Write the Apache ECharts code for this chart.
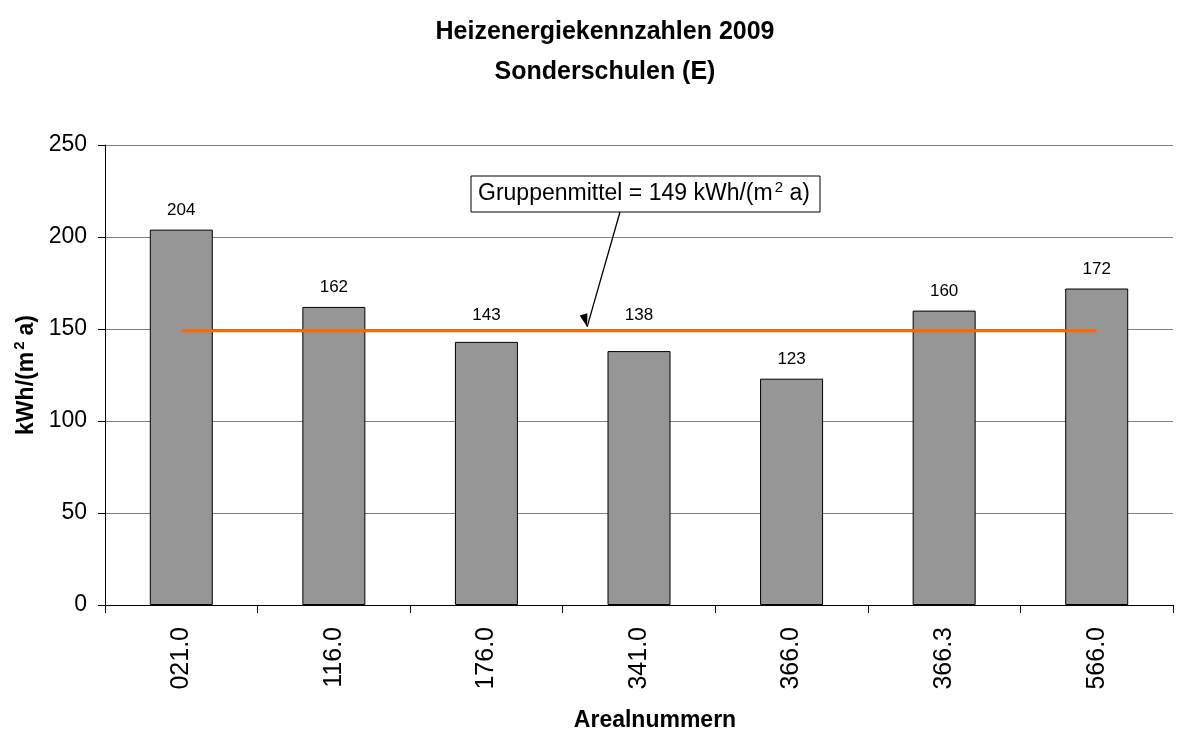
<!DOCTYPE html>
<html>
<head>
<meta charset="utf-8">
<script src="https://cdn.jsdelivr.net/npm/echarts@6/dist/echarts.min.js"></script>
<style>
  html, body { margin: 0; padding: 0; background: #fff; }
  #main { width: 1196px; height: 736px; }
</style>
</head>
<body>
<div id="main"></div>
<script>
var myChart = echarts.init(document.getElementById("main"));

// Daten
var areale = ["021.0", "116.0", "176.0", "341.0", "366.0", "366.3", "566.0"];
var kennzahlen = [204, 162, 143, 138, 123, 160, 172];
var gruppenmittel = [149, 149, 149, 149, 149, 149, 149];
var yTicks = [0, 50, 100, 150, 200, 250];

var font = "Liberation Sans, Arial, sans-serif";
var pxPerUnit = 460 / 250; // Plothöhe / Achsenbereich

// Beschriftungen, die den Mittelwert überdecken würden, nach oben schieben
var barData = kennzahlen.map(function (v) {
    var center = v + 20 / pxPerUnit;
    var minCenter = gruppenmittel[0] + 16 / pxPerUnit;
    if (Math.abs(center - gruppenmittel[0]) < 16 / pxPerUnit) {
        return { value: v, label: { offset: [0, -(minCenter - center) * pxPerUnit] } };
    }
    return v;
});

var supRich = {
    a: { fontFamily: font, fontSize: 23, fontWeight: "bold", color: "#000", lineHeight: 28 },
    s: { fontFamily: font, fontSize: 15, fontWeight: "bold", color: "#000", lineHeight: 14, verticalAlign: "top", padding: [0, 6, 0, 2] },
};

var option = {
    animation: false,
    title: {
        text: "Heizenergiekennzahlen 2009\nSonderschulen (E)",
        left: 600,
        textAlign: "center",
        top: 7,
        textStyle: {
            fontFamily: font,
            fontSize: 25,
            fontWeight: "bold",
            color: "#000",
            lineHeight: 40,
        },
    },
    grid: {
        left: 105,
        right: 23,
        top: 145,
        bottom: 131,
        outerBoundsMode: "none",
    },
    xAxis: {
        type: "category",
        data: areale,
        name: "Arealnummern",
        nameLocation: "middle",
        nameGap: 104,
        nameTextStyle: {
            fontFamily: font,
            fontSize: 23,
            fontWeight: "bold",
            color: "#000",
            padding: [0, 0, 0, 32],
        },
        axisLine: { lineStyle: { color: "#000", width: 1 } },
        axisTick: { show: true, length: 8, lineStyle: { color: "#000" } },
        axisLabel: {
            rotate: 90,
            margin: 22,
            fontFamily: font,
            fontSize: 25,
            color: "#000",
        },
    },
    yAxis: {
        type: "value",
        min: yTicks[0],
        max: yTicks[yTicks.length - 1],
        interval: 50,
        name: "{a|kWh/(m}{s|2}{a|a)}",
        nameLocation: "middle",
        nameGap: 55,
        nameRotate: 90,
        nameTextStyle: {
            fontFamily: font,
            fontSize: 23,
            fontWeight: "bold",
            color: "#000",
            rich: supRich,
        },
        axisLine: { show: true, lineStyle: { color: "#000", width: 1 } },
        axisTick: { show: true, length: 7, lineStyle: { color: "#000" } },
        axisLabel: {
            margin: 18,
            fontFamily: font,
            fontSize: 23,
            color: "#000",
        },
        splitLine: { show: true, lineStyle: { color: "#7f7f7f", width: 1 } },
    },
    series: [
        {
            type: "bar",
            data: barData,
            barWidth: 63,
            itemStyle: {
                color: "#969696",
                borderColor: "#000",
                borderWidth: 1,
            },
            label: {
                show: true,
                position: "top",
                distance: 11,
                fontFamily: font,
                fontSize: 17,
                color: "#000",
            },
            z: 2,
        },
        {
            type: "line",
            data: gruppenmittel,
            symbol: "none",
            lineStyle: { color: "#ff6600", width: 3 },
            z: 3,
        },
    ],
};
myChart.setOption(option);

// Beschriftung Gruppenmittel mit Pfeil
var p2 = myChart.convertToPixel({ seriesIndex: 1 }, [2, gruppenmittel[0]]);
var p3 = myChart.convertToPixel({ seriesIndex: 1 }, [3, gruppenmittel[0]]);
var tipX = p2[0] + (p3[0] - p2[0]) * 0.66;
var tipY = p2[1] - 4;
myChart.setOption({
    graphic: [
        {
            type: "rect",
            shape: { x: 471, y: 176, width: 349, height: 36 },
            style: { fill: "#fff", stroke: "#000", lineWidth: 1 },
            z: 10,
        },
        {
            type: "text",
            x: 478,
            y: 180,
            style: {
                text: "{a|Gruppenmittel = " + gruppenmittel[0] + " kWh/(m}{s|2}{a| a)}",
                rich: {
                    a: { fontFamily: font, fontSize: 23, fill: "#000", lineHeight: 28 },
                    s: { fontFamily: font, fontSize: 15, fill: "#000", lineHeight: 14, verticalAlign: "top", padding: [0, 0, 0, 2] },
                },
            },
            z: 11,
        },
        {
            type: "line",
            shape: { x1: 620, y1: 212, x2: tipX, y2: tipY },
            style: { stroke: "#000", lineWidth: 1.3 },
            z: 10,
        },
        {
            type: "polygon",
            x: tipX,
            y: tipY,
            rotation: -Math.atan2(tipX - 620, tipY - 212),
            shape: { points: [[0, 0], [-4, -13], [4, -13]] },
            style: { fill: "#000" },
            z: 10,
        },
    ],
});
</script>
</body>
</html>
